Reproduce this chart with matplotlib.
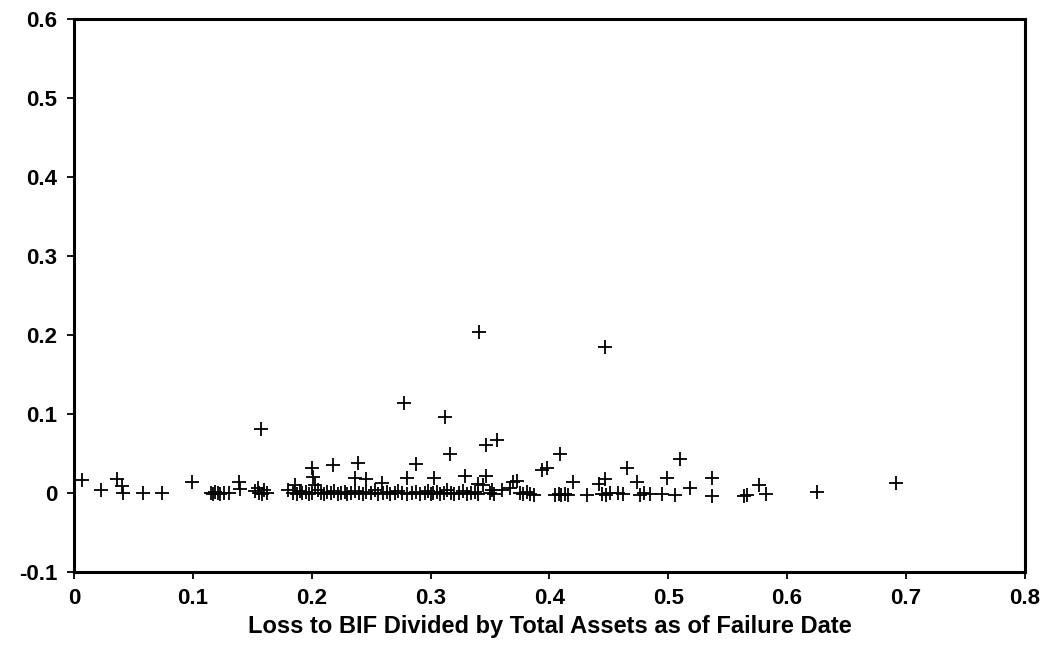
"""Scatter of loss to BIF vs. total assets at failure, redrawn from a scanned figure."""
import matplotlib
matplotlib.use("Agg")
import matplotlib.pyplot as plt

# points clearly off the zero line
loss_ratio = [
    0.007, 0.023, 0.036, 0.040, 0.041, 0.058, 0.074, 0.099, 0.139, 0.140,
    0.157, 0.155, 0.160, 0.186, 0.200, 0.201, 0.203, 0.218, 0.239, 0.236,
    0.246, 0.259, 0.280, 0.288, 0.278, 0.303, 0.312, 0.316, 0.329, 0.341,
    0.347, 0.356, 0.347, 0.369, 0.373, 0.340, 0.344, 0.367, 0.352, 0.394,
    0.398, 0.409, 0.420, 0.442, 0.447, 0.447, 0.465, 0.474, 0.499, 0.510,
    0.518, 0.537, 0.537, 0.564, 0.566, 0.576, 0.582, 0.625, 0.692,
]
outcome = [
    0.016, 0.004, 0.018, 0.009, 0.000, 0.000, 0.000, 0.014, 0.014, 0.005,
    0.081, 0.006, 0.004, 0.010, 0.031, 0.020, 0.010, 0.035, 0.038, 0.019,
    0.017, 0.012, 0.019, 0.037, 0.114, 0.019, 0.096, 0.049, 0.021, 0.204,
    0.061, 0.067, 0.021, 0.014, 0.015, 0.011, 0.010, 0.006, 0.004, 0.029,
    0.031, 0.049, 0.014, 0.011, 0.018, 0.184, 0.031, 0.014, 0.019, 0.043,
    0.006, 0.019, -0.004, -0.004, -0.003, 0.010, -0.002, 0.001, 0.012,
]

# the dense band of failures sitting at (about) zero
band_ratio = [
    0.115, 0.117, 0.119, 0.121, 0.123, 0.126, 0.130, 0.152, 0.156, 0.158,
    0.162, 0.180, 0.184, 0.188, 0.190, 0.192, 0.195, 0.198, 0.200, 0.205,
    0.208, 0.210, 0.213, 0.216, 0.219, 0.222, 0.225, 0.228, 0.230, 0.233,
    0.236, 0.240, 0.243, 0.246, 0.250, 0.253, 0.256, 0.260, 0.263, 0.266,
    0.270, 0.273, 0.276, 0.280, 0.284, 0.288, 0.291, 0.295, 0.298, 0.300,
    0.302, 0.305, 0.308, 0.311, 0.314, 0.317, 0.320, 0.324, 0.327, 0.331,
    0.334, 0.337, 0.340, 0.350, 0.353, 0.360, 0.375, 0.378, 0.381, 0.384,
    0.387, 0.405, 0.408, 0.410, 0.413, 0.416, 0.432, 0.444, 0.448, 0.451,
    0.458, 0.462, 0.476, 0.480, 0.485, 0.495, 0.506,
]
band_outcome = [
    0.000, -0.001, 0.001, 0.000, -0.001, 0.000, 0.000, 0.002, 0.000, -0.001,
    0.000, 0.003, 0.000, -0.001, 0.002, 0.000, 0.001, -0.001, 0.000, 0.003,
    0.000, -0.002, 0.001, 0.000, 0.002, -0.001, 0.000, 0.001, -0.002, 0.000,
    0.002, 0.000, -0.001, 0.001, 0.000, 0.003, -0.001, 0.000, 0.001, -0.002,
    0.000, 0.002, 0.000, -0.001, 0.000, 0.001, -0.002, 0.000, 0.002, -0.001,
    0.000, 0.001, -0.002, 0.000, 0.003, 0.000, -0.001, 0.000, 0.002, -0.001,
    0.000, 0.001, -0.002, 0.000, -0.001, 0.003, 0.000, -0.002, 0.001, -0.002,
    -0.003, -0.003, -0.002, -0.003, -0.002, -0.003, -0.003, -0.002, -0.003, 0.000,
    0.000, -0.002, -0.003, 0.000, -0.002, -0.001, -0.003,
]

x_ticks = [0, 0.1, 0.2, 0.3, 0.4, 0.5, 0.6, 0.7, 0.8]
x_tick_labels = ["0", "0.1", "0.2", "0.3", "0.4", "0.5", "0.6", "0.7", "0.8"]
y_ticks = [-0.1, 0, 0.1, 0.2, 0.3, 0.4, 0.5, 0.6]
y_tick_labels = ["-0.1", "0", "0.1", "0.2", "0.3", "0.4", "0.5", "0.6"]

plt.rcParams["font.family"] = ["Liberation Sans", "DejaVu Sans"]
plt.rcParams["font.weight"] = "bold"

fig = plt.figure(figsize=(10.5, 6.49), dpi=100)
ax = fig.add_axes([0.0705, 0.119, 0.9055, 0.852])

marker_style = dict(linestyle="none", marker="+", markersize=10,
                    markeredgewidth=1.3, color="black")
ax.plot(band_ratio, band_outcome, **marker_style)
ax.plot(loss_ratio, outcome, **marker_style)

ax.set_xlim(0, 0.8)
ax.set_ylim(-0.1, 0.6)
ax.set_xticks(x_ticks)
ax.set_xticklabels(x_tick_labels)
ax.set_yticks(y_ticks)
ax.set_yticklabels(y_tick_labels)
ax.tick_params(direction="out", length=5, width=1.3, labelsize=16)
ax.tick_params(axis="x", pad=7)
ax.tick_params(axis="y", pad=7)
for spine in ax.spines.values():
    spine.set_linewidth(2.2)

ax.set_xlabel("Loss to BIF Divided by Total Assets as of Failure Date",
              fontsize=17, fontweight="bold", labelpad=4)

fig.savefig("out.png", dpi=100, facecolor="white")
